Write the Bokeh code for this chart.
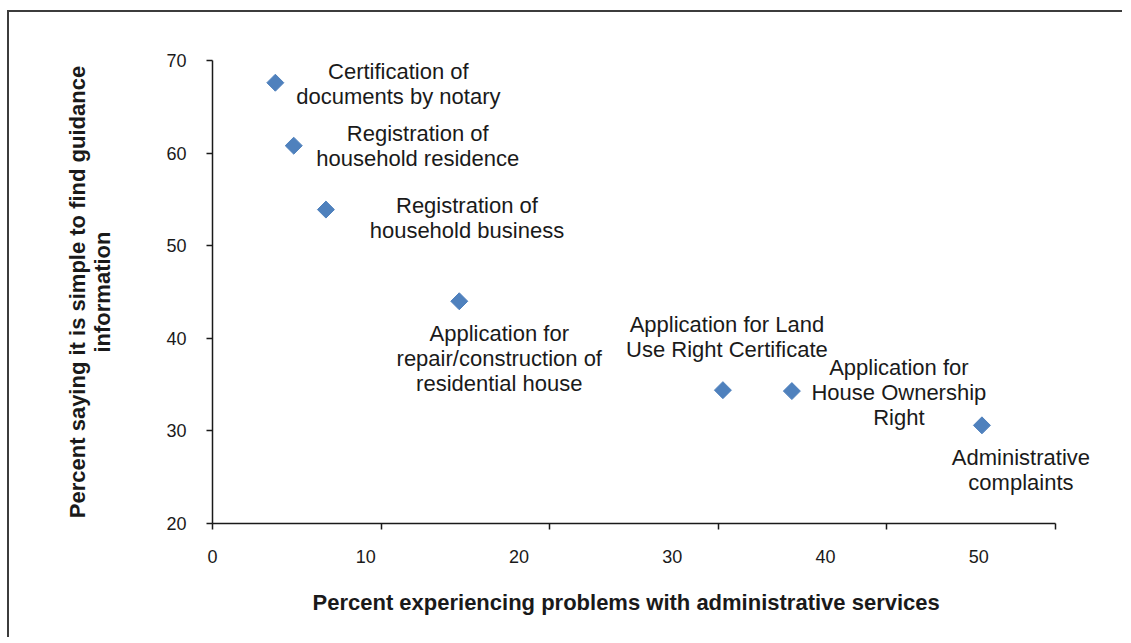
import numpy as np
from bokeh.plotting import figure
from bokeh.models import ColumnDataSource, Range1d, FixedTicker, Title
from bokeh.core.properties import value
from bokeh.embed import file_html
from bokeh.resources import INLINE

# ---- data ----
services = [
    "Certification of\ndocuments by notary",
    "Registration of\nhousehold residence",
    "Registration of\nhousehold business",
    "Application for\nrepair/construction of\nresidential house",
    "Application for Land\nUse Right Certificate",
    "Application for\nHouse Ownership\nRight",
    "Administrative\ncomplaints",
]
pct_problems = [4.1, 5.3, 7.4, 16.1, 33.3, 37.8, 50.2]
pct_simple = [67.6, 60.8, 53.9, 44.0, 34.4, 34.3, 30.6]

x_tick_labels = [0, 10, 20, 30, 40, 50]
x_tick_marks = [0, 11, 22, 33, 44, 55]
y_ticks = [20, 30, 40, 50, 60, 70]
x_axis_max = 55
x_title = "Percent experiencing problems with administrative services"
y_title = "Percent saying it is simple to find guidance\ninformation"

# label offsets (screen px, right / down) relative to each point
label_dx = [123, 124, 141, 40, 4, 107, 39]
label_dy = [1.5, 0.5, 8.5, 57, -53, 1, 45]

FONT = "Liberation Sans"
INK = "#1a1a1a"

# frame is a bit wider than the axis so labels right of the last point are not clipped
ML, MR = 203, 15
W, H = 1115, 627
axis_px = 843
x_end = x_axis_max * (W - ML - MR) / axis_px

p = figure(width=W, height=H, output_backend="svg", toolbar_location=None,
           x_range=Range1d(0, x_end), y_range=Range1d(20, 70),
           min_border_left=ML, min_border_right=MR, min_border_top=48, min_border_bottom=116)
p.styles = {"margin-top": "10px", "margin-left": "7px",
            "border-top": "2px solid #3c3c3c", "border-left": "2px solid #3c3c3c"}

p.grid.visible = False
p.outline_line_color = None

src = ColumnDataSource(dict(x=pct_problems, y=pct_simple, t=services, dx=label_dx, dy=label_dy))

p.scatter("x", "y", source=src, marker="square", angle=np.pi / 4, size=12,
          fill_color="#4F81BD", line_color="#4F81BD")
p.text("x", "y", text="t", source=src, x_offset="dx", y_offset="dy",
       text_align="center", text_baseline="middle", text_font=value(FONT),
       text_font_size="22px", text_color=INK, text_line_height=1.0)

# x axis
xa = p.xaxis[0]
xa.bounds = (0, x_axis_max)
xa.ticker = FixedTicker(ticks=x_tick_labels, minor_ticks=x_tick_marks)
xa.major_tick_line_color = None
xa.major_tick_out = 6
xa.major_tick_in = 0
xa.minor_tick_out = 6
xa.minor_tick_in = 0
xa.minor_tick_line_color = INK
xa.minor_tick_line_width = 1.5
xa.axis_line_color = INK
xa.axis_line_width = 1.5
xa.major_label_text_font = FONT
xa.major_label_text_font_size = "18px"
xa.major_label_text_color = INK
xa.major_label_standoff = 20

xt = Title(text=x_title, align="left", offset=100,
           text_font=FONT, text_font_style="bold", text_font_size="22px",
           text_color=INK, standoff=44)
p.add_layout(xt, "below")

# y axis
ya = p.yaxis[0]
ya.ticker = FixedTicker(ticks=y_ticks, minor_ticks=[])
ya.major_tick_out = 6
ya.major_tick_in = 0
ya.major_tick_line_color = INK
ya.major_tick_line_width = 1.5
ya.axis_line_color = INK
ya.axis_line_width = 1.5
ya.major_label_text_font = FONT
ya.major_label_text_font_size = "18px"
ya.major_label_text_color = INK
ya.major_label_standoff = 20
ya.axis_label = y_title
ya.axis_label_text_font = FONT
ya.axis_label_text_font_style = "bold"
ya.axis_label_text_font_size = "22px"
ya.axis_label_text_color = INK
ya.axis_label_text_line_height = 1.0
ya.axis_label_standoff = 48

open("out.html", "w").write(file_html(p, INLINE))
